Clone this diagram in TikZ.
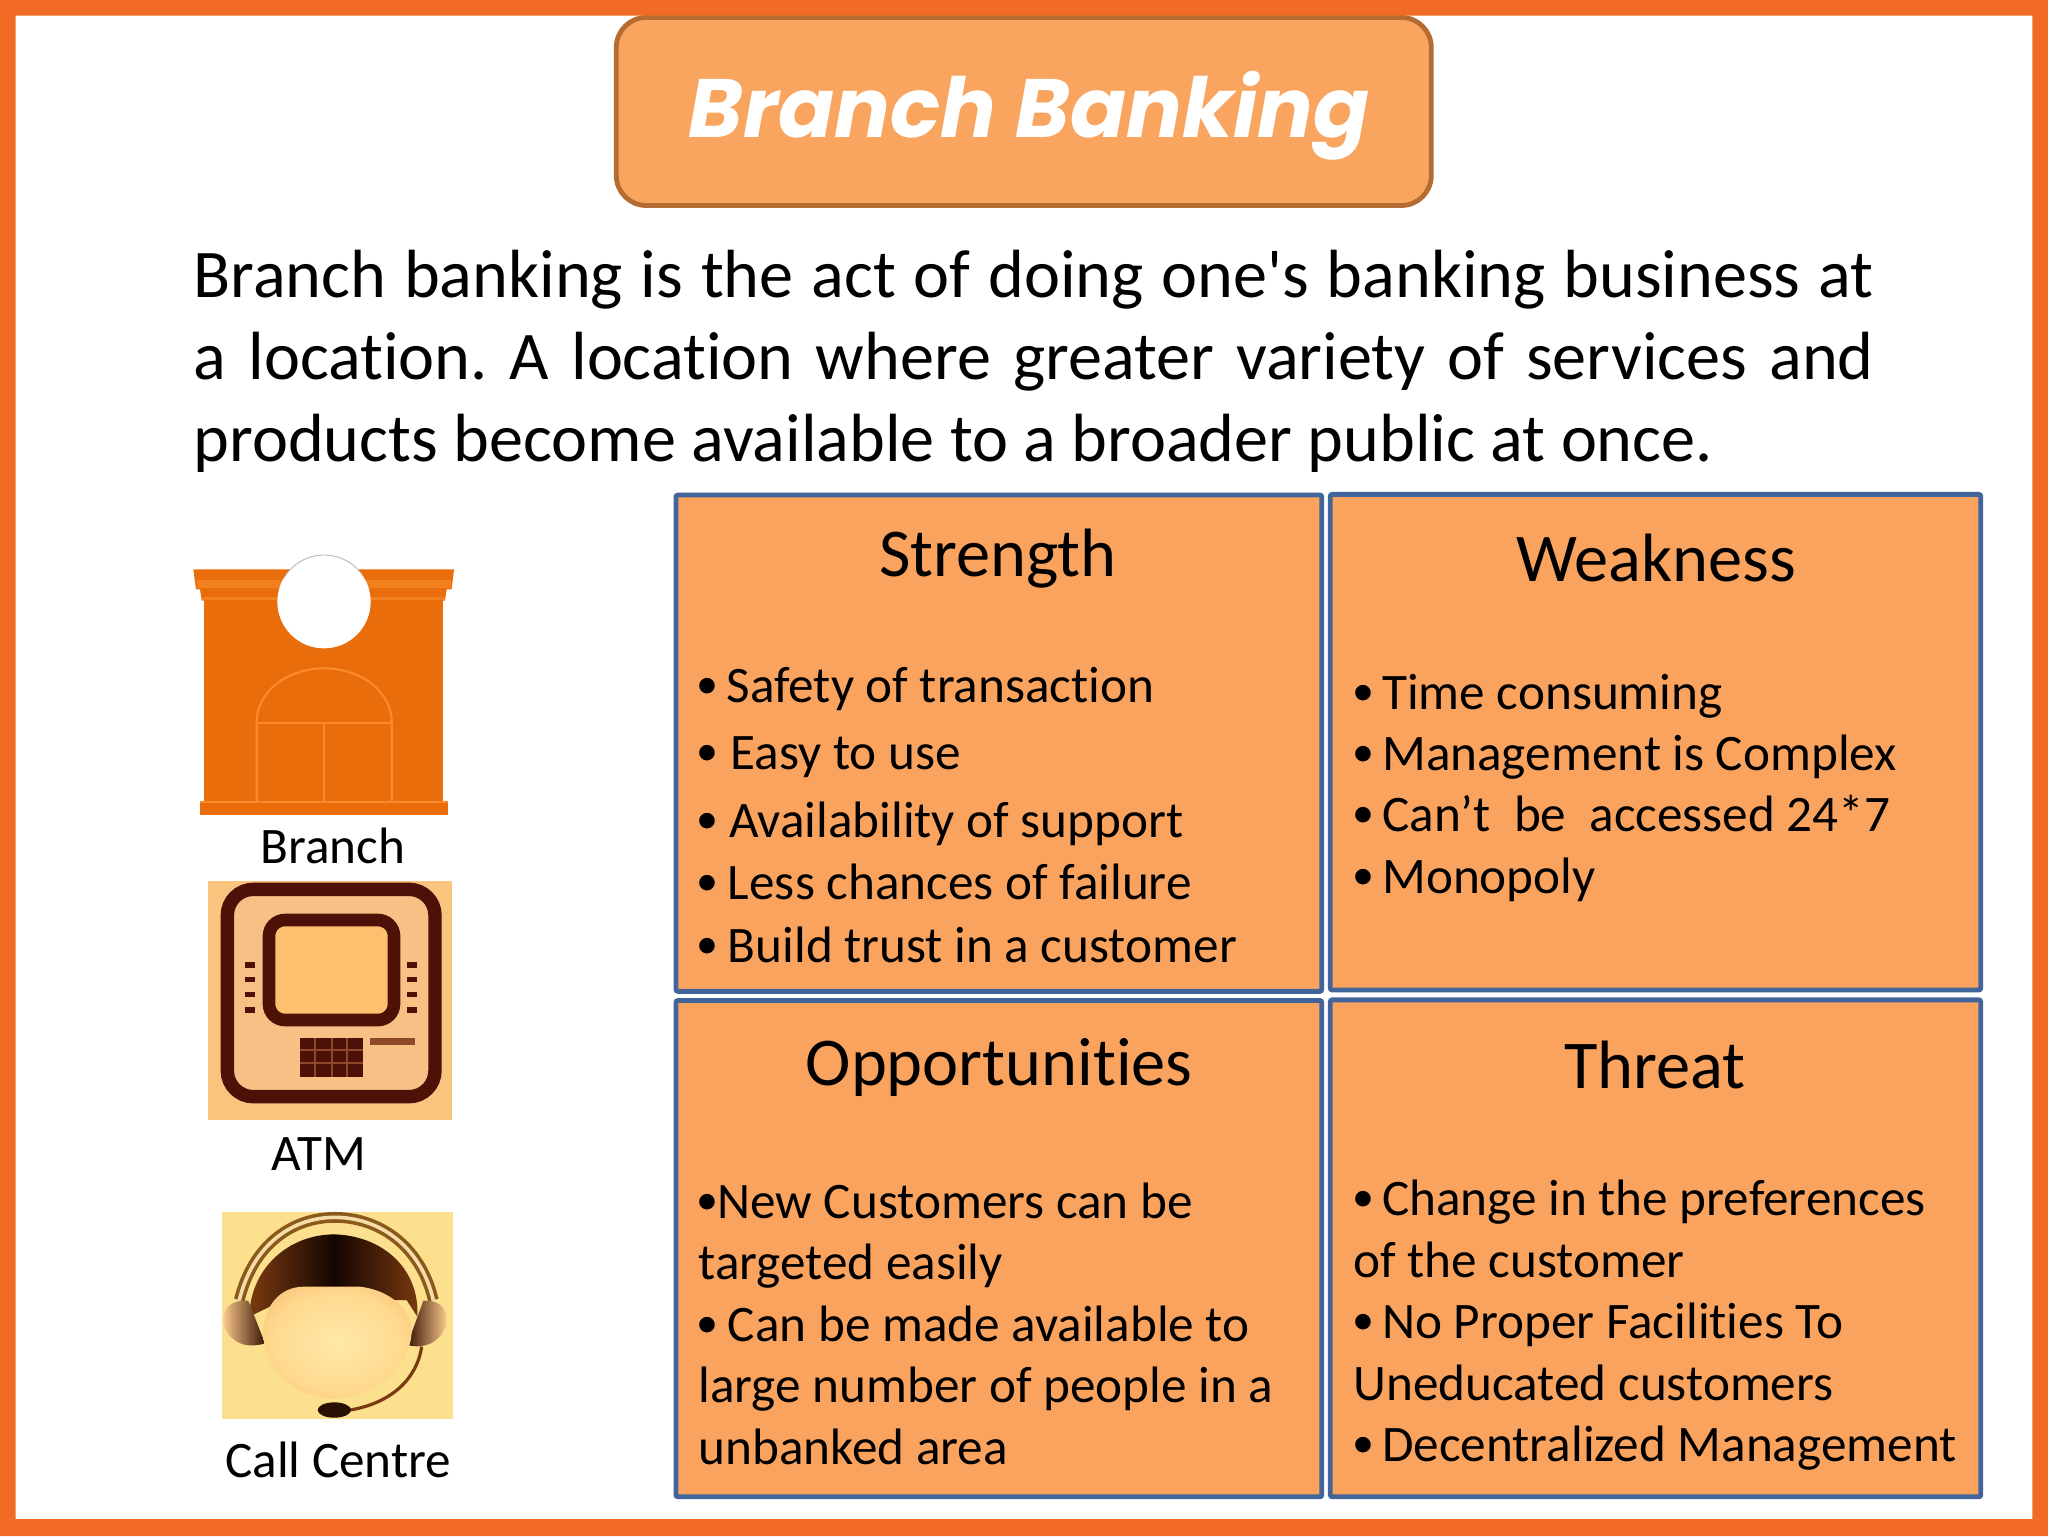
\documentclass[tikz,border=0pt]{standalone}
\usepackage{fontspec}
\setmainfont{Carlito}[Ligatures={NoCommon,TeXOff}]
\newfontfamily\titlefont{Poppins}[BoldFont={Poppins Bold},BoldItalicFont={Poppins Bold Italic}]
\frenchspacing
\definecolor{frameor}{HTML}{F26B24}
\definecolor{boxfill}{HTML}{FAA35F}
\definecolor{boxline}{HTML}{41659A}
\definecolor{titlefill}{HTML}{F9A55F}
\definecolor{titleline}{HTML}{B46C32}
\definecolor{brick}{HTML}{E96D0B}
\definecolor{brickstrip}{HTML}{F2801F}
\definecolor{bricklight}{HTML}{FB8A2E}
\definecolor{atmdark}{HTML}{4D1108}
\definecolor{atmbg}{HTML}{FAC47E}
\definecolor{atmin}{HTML}{F9C086}
\definecolor{atmscreen}{HTML}{FDC06E}
\definecolor{atmgrid}{HTML}{8E4A28}
\definecolor{callbg}{HTML}{FCE08E}
\definecolor{faceA}{HTML}{FFE8A8}
\definecolor{faceB}{HTML}{FFD98F}
\definecolor{faceC}{HTML}{F6B56C}
\definecolor{faceD}{HTML}{D98840}
\definecolor{bandbrown}{HTML}{8A5A1C}
\definecolor{bandpale}{HTML}{F6DCA6}
\definecolor{hairedge}{HTML}{7A3A10}
\definecolor{hairdark}{HTML}{140500}
\definecolor{cuplight}{HTML}{F9C88C}
\definecolor{cupdark}{HTML}{3A1505}
\pgfdeclareradialshading{facesh}{\pgfpoint{0bp}{0bp}}{color(0bp)=(faceA); color(22bp)=(faceB); color(38bp)=(faceC); color(50bp)=(faceD)}
\newcommand{\bul}[1]{\makebox[#1pt][l]{\kern-1.3pt\raisebox{2pt}{\fontsize{22}{22}\selectfont •}}}
\tikzset{
  quadbox/.style={draw=boxline,fill=boxfill,line width=2.4pt,rounded corners=1pt},
  headtext/.style={anchor=base,font=\fontsize{34.2}{40}\selectfont,inner sep=0pt},
  itemtext/.style={anchor=base west,font=\fontsize{25.6}{30}\selectfont,inner sep=0pt,yshift=-0.6pt},
  captext/.style={anchor=base,font=\fontsize{25.6}{30}\selectfont,inner sep=0pt},
  iconline/.style={draw=bricklight,line width=1.1pt}
}
\begin{document}
\begin{tikzpicture}[x=0.65306pt,y=-0.65306pt]
\useasboundingbox (0,0) rectangle (1568,1176);
\fill[white] (0,0) rectangle (1568,1176);
% title
\node[draw=titleline,fill=titlefill,line width=2.4pt,rounded corners=15pt,minimum width=624*0.65306pt,minimum height=144*0.65306pt,anchor=north west,inner sep=0pt] (titlebox) at (470,11.5) {};
% frame
\fill[frameor,even odd rule] (0,0) rectangle (1568,1176) (12,12) rectangle (1556,1163);
\node[anchor=base,inner sep=0pt,text=white,font=\titlefont\bfseries\itshape\fontsize{41.4}{48}\selectfont] (titletext) at (788,105) {Branch Banking};
% paragraph
\node[anchor=north west,inner sep=0pt,text width=840pt,align=justify,font=\fontsize{34.1}{41}\selectfont] (para) at (148,191) {Branch banking is the act of doing one's banking business at\linebreak a location. A location where greater variety of services and\linebreak products become available to a broader public at once.};
% quadrants
\draw[quadbox] (517.5,379) rectangle (1012,759);
\draw[quadbox] (1018.5,378.5) rectangle (1516.5,758);
\draw[quadbox] (517.5,766) rectangle (1012,1146);
\draw[quadbox] (1018.5,765.5) rectangle (1516.5,1146);
% strength
\node[headtext] (sh) at (764,441) {Strength};
\node[itemtext] (s1) at (535,537) {\bul{13.7}Safety of transaction};
\node[itemtext] (s2) at (535,588) {\bul{15.7}Easy to use};
\node[itemtext] (s3) at (535,640) {\bul{15}Availability of support};
\node[itemtext] (s4) at (535,688) {\bul{14.4}Less chances of failure};
\node[itemtext] (s5) at (535,736) {\bul{14.4}Build trust in a customer};
% weakness
\node[headtext] (wh) at (1268,445) {Weakness};
\node[itemtext] (w1) at (1037,542) {\bul{13.7}Time consuming};
\node[itemtext] (w2) at (1037,589) {\bul{13.7}Management is Complex};
\node[itemtext] (w3) at (1037,636) {\bul{13.7}Can’t\ \ be\ \ accessed 24*7};
\node[itemtext] (w4) at (1037,683) {\bul{13.7}Monopoly};
% opportunities
\node[headtext] (oh) at (765,831) {Opportunities};
\node[itemtext] (o1) at (535,932) {\bul{9.1}New Customers can be};
\node[itemtext] (o2) at (534.5,979) {targeted easily};
\node[itemtext] (o3) at (535,1026) {\bul{14.4}Can be made available to};
\node[itemtext] (o4) at (534.5,1073) {large number of people in a};
\node[itemtext] (o5) at (534.5,1120) {unbanked area};
% threat
\node[headtext] (th) at (1267,833) {Threat};
\node[itemtext] (t1) at (1037,930) {\bul{13.7}Change in the preferences};
\node[itemtext] (t2) at (1036,977) {of the customer};
\node[itemtext] (t3) at (1037,1024) {\bul{13.7}No Proper Facilities To};
\node[itemtext] (t4) at (1036,1071) {Uneducated customers};
\node[itemtext] (t5) at (1037,1118) {\bul{13.7}Decentralized Management};
% captions
\node[captext] (c1) at (255,661) {Branch};
\node[captext] (c2) at (244,896) {ATM};
\node[captext] (c3) at (259,1131) {Call Centre};
% branch icon
\begin{scope}[shift={(114.85,405.78)},scale=0.25521]
  \fill[brick] (162,205) rectangle (880,825);
  \fill[brick] (130,118) -- (912,118) -- (905,178) -- (890,178) -- (885,212) -- (155,212) -- (150,178) -- (138,178) -- cycle;
  \fill[brickstrip] (140,150) rectangle (902,175);
  \fill[brickstrip] (155,200) rectangle (885,210);
  \fill[brick] (150,820) rectangle (893,855);
  \draw[iconline] (150,817) -- (893,817);
  \draw[iconline] (320,817) -- (320,575) arc[start angle=180,end angle=360,x radius=202.5,y radius=160] -- (725,817);
  \draw[iconline] (320,578) -- (725,578);
  \draw[iconline] (522,578) -- (522,817);
  \fill[white] (522,215) circle[radius=140];
  \draw[gray!60,line width=.4pt] (401,145) arc[start angle=210,end angle=330,radius=140];
\end{scope}
% ATM icon
\begin{scope}[shift={(145.47,666.1)},scale=0.25521]
  \fill[atmbg] (55,32) rectangle (785,750);
  \draw[atmdark,line width=6.7pt,rounded corners=13pt,fill=atmin] (112,58) rectangle (735,680);
  \draw[atmdark,line width=6.3pt,rounded corners=8pt,fill=atmscreen] (237,150) rectangle (612,450);
  \foreach \yy in {285,328,373,420}{
    \fill[atmdark] (165,\yy-8) rectangle (195,\yy+8);
    \fill[atmdark] (650,\yy-8) rectangle (680,\yy+8);
  }
  \fill[atmdark] (330,505) rectangle (520,620);
  \foreach \xx in {375,425,472}{\fill[atmgrid] (\xx-3,505) rectangle (\xx+3,620);}
  \foreach \yy in {540,578}{\fill[atmgrid] (330,\yy-3) rectangle (520,\yy+3);}
  \fill[atmgrid] (540,504) rectangle (675,524);
\end{scope}
% call centre icon
\begin{scope}[shift={(153.12,911.1)},scale=0.25521]
  \fill[callbg] (66,65) rectangle (758,688);
  % headband
  \draw[draw=bandbrown,line width=5.4pt] (118,330) .. controls (160,160) and (280,82) .. (405,82) .. controls (530,82) and (660,160) .. (700,330);
  \draw[draw=bandpale,line width=1.8pt] (118,330) .. controls (160,160) and (280,82) .. (405,82) .. controls (530,82) and (660,160) .. (700,330);
  % hair
  \shade[left color=hairedge,right color=hairedge,middle color=hairdark] (148,380) .. controls (150,240) and (260,135) .. (400,133) .. controls (540,135) and (660,230) .. (652,380) -- (620,330) -- (250,330) -- cycle;
  % ear cups
  \shade[left color=cuplight,right color=cupdark] (70,395) .. controls (70,350) and (95,330) .. (145,332) -- (195,460) .. controls (130,480) and (80,450) .. (70,395) -- cycle;
  \shade[right color=cuplight,left color=cupdark] (740,395) .. controls (740,350) and (715,330) .. (670,332) -- (622,465) .. controls (680,480) and (730,450) .. (740,395) -- cycle;
  % face
  \shade[shading=facesh] (190,430) .. controls (190,350) and (240,290) .. (310,290) -- (480,290) .. controls (570,300) and (635,360) .. (635,420) .. controls (635,530) and (520,625) .. (400,625) .. controls (290,625) and (190,540) .. (190,430) -- cycle;
  % mic
  \draw[hairedge,line width=1.6pt] (665,470) .. controls (650,570) and (570,640) .. (450,660);
  \fill[hairdark!80!hairedge] (403,660) ellipse[x radius=50,y radius=23];
\end{scope}
\end{tikzpicture}
\end{document}
